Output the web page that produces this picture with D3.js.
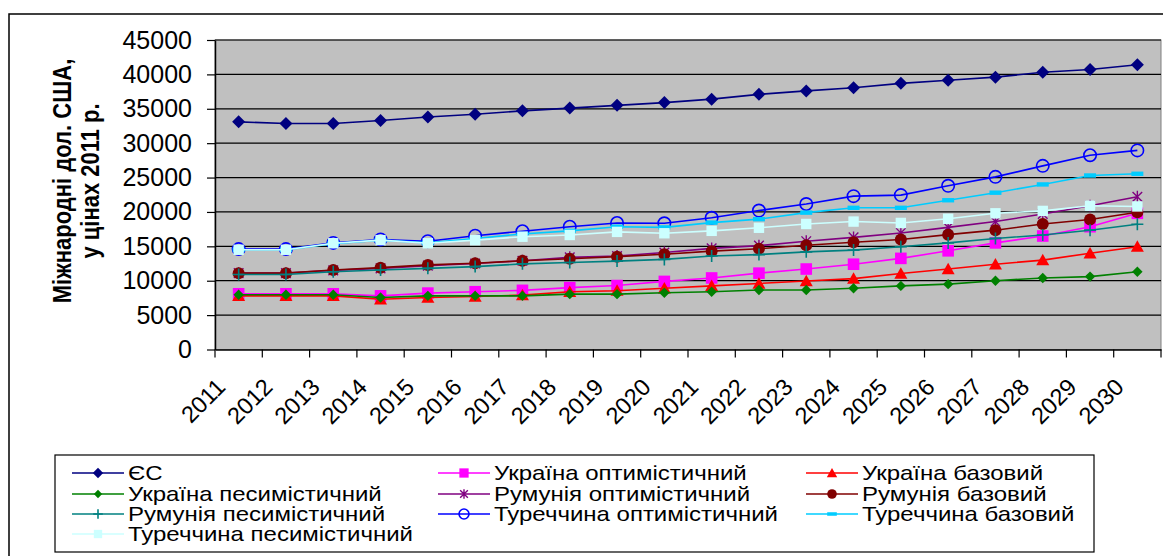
<!DOCTYPE html>
<html>
<head>
<meta charset="utf-8">
<script src="https://cdn.jsdelivr.net/npm/d3@7"></script>
<style>
  html, body { margin: 0; padding: 0; background: #fff; }
  svg { display: block; font-family: Arial, "Liberation Sans", sans-serif; }
</style>
</head>
<body>
<svg id="chart" width="1163" height="556"></svg>
<script>
// GDP per capita projections, international USD at 2011 prices
const years = ["2011","2012","2013","2014","2015","2016","2017","2018","2019","2020",
               "2021","2022","2023","2024","2025","2026","2027","2028","2029","2030"];
const yTicks = [0, 5000, 10000, 15000, 20000, 25000, 30000, 35000, 40000, 45000];

const eu     = [33100, 32850, 32850, 33300, 33800, 34200, 34700, 35100, 35500, 35900, 36400, 37100, 37600, 38050, 38700, 39150, 39600, 40300, 40700, 41400];
const uaOpt  = [8100, 8100, 8100, 7800, 8200, 8400, 8600, 9000, 9300, 9900, 10400, 11100, 11700, 12400, 13250, 14350, 15500, 16500, 17850, 19800];
const uaBase = [7800, 7800, 7800, 7300, 7550, 7700, 7900, 8400, 8550, 8900, 9250, 9600, 9950, 10300, 11050, 11700, 12400, 13000, 14000, 14950];
const uaPes  = [7950, 7950, 7950, 7550, 7800, 7800, 7800, 8050, 8050, 8250, 8400, 8650, 8650, 8900, 9250, 9500, 10000, 10400, 10600, 11300];
const roOpt  = [11100, 11100, 11500, 11800, 12200, 12500, 12900, 13400, 13600, 14100, 14700, 15100, 15750, 16300, 16950, 17750, 18600, 19700, 20900, 22200];
const roBase = [11100, 11100, 11550, 11900, 12300, 12550, 12900, 13200, 13500, 13850, 14300, 14650, 15150, 15600, 16000, 16700, 17350, 18250, 18900, 19950];
const roPes  = [10900, 10900, 11300, 11550, 11800, 12050, 12450, 12650, 12850, 13100, 13600, 13800, 14200, 14450, 14950, 15500, 16150, 16650, 17350, 18200];
const trOpt  = [14600, 14600, 15500, 16000, 15750, 16550, 17200, 17850, 18400, 18350, 19150, 20200, 21150, 22300, 22450, 23800, 25100, 26700, 28250, 28950];
const trBase = [14500, 14500, 15400, 15900, 15500, 16150, 16800, 17250, 17850, 17750, 18450, 18950, 19900, 20600, 20600, 21700, 22800, 24000, 25300, 25550];
const trPes  = [14500, 14500, 15450, 15900, 15450, 15900, 16400, 16650, 17100, 16900, 17250, 17700, 18250, 18600, 18400, 19000, 19800, 20150, 20900, 20800];

const seriesNames = ["ЄС", "Україна оптимістичний", "Україна базовий", "Україна песимістичний",
  "Румунія оптимістичний", "Румунія базовий", "Румунія песимістичний",
  "Туреччина оптимістичний", "Туреччина базовий", "Туреччина песимістичний"];
const seriesValues = [eu, uaOpt, uaBase, uaPes, roOpt, roBase, roPes, trOpt, trBase, trPes];
const seriesColors = ["#000080", "#FF00FF", "#FF0000", "#008000", "#800080", "#800000",
  "#008080", "#0000FF", "#00CCFF", "#CCFFFF"];
const seriesMarkers = ["diamond", "square", "triangle", "smallDiamond", "star", "circle",
  "plus", "openCircle", "dash", "lightSquare"];

const series = seriesNames.map((name, i) => ({
  name, values: seriesValues[i], color: seriesColors[i], marker: seriesMarkers[i]
}));

const svg = d3.select("#chart");

// outer chart frame
svg.append("rect")
  .attr("x", 9).attr("y", 14).attr("width", 1170).attr("height", 570)
  .attr("fill", "#fff").attr("stroke", "#000").attr("stroke-width", 1.5);

const plot = { left: 215, top: 40, right: 1161, bottom: 349.5 };

const x = d3.scaleBand().domain(years).range([plot.left, plot.right]).padding(0);
const y = d3.scaleLinear().domain([0, 45000]).range([plot.bottom, plot.top]);
const cx = d => x(d) + x.bandwidth() / 2;

// plot background
svg.append("rect")
  .attr("x", plot.left).attr("y", plot.top)
  .attr("width", plot.right - plot.left).attr("height", plot.bottom - plot.top)
  .attr("fill", "#C0C0C0").attr("stroke", "#808080").attr("stroke-width", 1);

// horizontal gridlines
svg.append("g").selectAll("line").data(yTicks.filter(t => t > 0)).join("line")
  .attr("x1", plot.left).attr("x2", plot.right)
  .attr("y1", d => y(d)).attr("y2", d => y(d))
  .attr("stroke", "#000").attr("stroke-width", 1.2);

// y axis
const yAxis = svg.append("g")
  .attr("transform", `translate(${plot.left},0)`)
  .call(d3.axisLeft(y).tickValues(yTicks).tickFormat(d3.format("d"))
    .tickSize(8).tickPadding(15).tickSizeOuter(0));
yAxis.select(".domain").attr("stroke", "#000").attr("stroke-width", 1.5);
yAxis.selectAll(".tick line").attr("stroke", "#000").attr("stroke-width", 1.2);
yAxis.selectAll(".tick text")
  .attr("font-size", 25).attr("fill", "#000")
  .attr("font-family", "Arial, 'Liberation Sans', sans-serif");

// x axis: baseline, ticks between categories, rotated labels
const xAxis = svg.append("g")
  .attr("transform", `translate(0,${plot.bottom})`)
  .call(d3.axisBottom(x).tickSize(0).tickSizeOuter(0));
xAxis.select(".domain").attr("stroke", "#000").attr("stroke-width", 1.5);
xAxis.selectAll(".tick text")
  .attr("font-size", 23.5).attr("fill", "#000")
  .attr("font-family", "Arial, 'Liberation Sans', sans-serif")
  .attr("text-anchor", "end")
  .attr("dy", 0).attr("y", 0)
  .attr("transform", "translate(-12,39) rotate(-45)");

const boundaries = years.map(d => x(d)).concat([x(years[years.length - 1]) + x.bandwidth()]);
svg.append("g").selectAll("line").data(boundaries).join("line")
  .attr("x1", d => d).attr("x2", d => d)
  .attr("y1", plot.bottom).attr("y2", plot.bottom + 8)
  .attr("stroke", "#000").attr("stroke-width", 1.2);

// y axis title (two centred lines, slightly widened glyphs)
const yTitle = svg.append("g").attr("font-weight", "bold").attr("font-size", 22)
  .attr("fill", "#000").attr("text-anchor", "middle");
yTitle.append("text")
  .attr("transform", "translate(71,181) scale(1.2,1) rotate(-90)")
  .text("Міжнародні дол. США,");
yTitle.append("text")
  .attr("transform", "translate(99,181) scale(1.2,1) rotate(-90)")
  .text("у цінах 2011 р.");

// marker drawing
function drawMarker(g, type, color, k) {
  k = k || 1;
  switch (type) {
    case "diamond": {
      const s = 6.5 * k;
      g.append("path").attr("d", `M0,${-s}L${s},0L0,${s}L${-s},0Z`).attr("fill", color);
      break;
    }
    case "smallDiamond": {
      const s = 5.2 * k;
      g.append("path").attr("d", `M0,${-s}L${s},0L0,${s}L${-s},0Z`).attr("fill", color);
      break;
    }
    case "square": {
      const s = 5.8 * k;
      g.append("rect").attr("x", -s).attr("y", -s).attr("width", 2 * s).attr("height", 2 * s).attr("fill", color);
      break;
    }
    case "lightSquare": {
      const s = 5.2 * k;
      g.append("rect").attr("x", -s).attr("y", -s).attr("width", 2 * s).attr("height", 2 * s).attr("fill", color);
      break;
    }
    case "triangle": {
      const w = 6.5 * k, h = 11.5 * k;
      g.append("path").attr("d", `M0,${-h * 0.55}L${w},${h * 0.45}L${-w},${h * 0.45}Z`).attr("fill", color);
      break;
    }
    case "circle": {
      g.append("circle").attr("r", 6 * k).attr("fill", color);
      break;
    }
    case "openCircle": {
      g.append("circle").attr("r", 6.2 * k).attr("fill", "none")
        .attr("stroke", color).attr("stroke-width", 1.6);
      break;
    }
    case "star": {
      const s = 6 * k, d = s * 0.8;
      g.append("path")
        .attr("d", `M0,${-s}V${s}M${-d},${-d}L${d},${d}M${-d},${d}L${d},${-d}`)
        .attr("stroke", color).attr("stroke-width", 1.4).attr("fill", "none");
      break;
    }
    case "plus": {
      const s = 6 * k;
      g.append("path").attr("d", `M0,${-s}V${s}M${-s},0H${s}`)
        .attr("stroke", color).attr("stroke-width", 1.6).attr("fill", "none");
      break;
    }
    case "dash": {
      const w = 6 * k, h = 2.2 * k;
      g.append("rect").attr("x", -w).attr("y", -h).attr("width", 2 * w).attr("height", 2 * h).attr("fill", color);
      break;
    }
  }
}

// series lines and markers
const line = d3.line().x((v, i) => cx(years[i])).y(v => y(v));
series.forEach(s => {
  const g = svg.append("g");
  g.append("path").attr("d", line(s.values))
    .attr("fill", "none").attr("stroke", s.color).attr("stroke-width", 1.6);
  s.values.forEach((v, i) => {
    const m = g.append("g").attr("transform", `translate(${cx(years[i])},${y(v)})`);
    drawMarker(m, s.marker, s.color, 1);
  });
});

// legend
const legend = svg.append("g");
legend.append("rect")
  .attr("x", 55).attr("y", 455).attr("width", 1039).attr("height", 97)
  .attr("fill", "#fff").attr("stroke", "#000").attr("stroke-width", 1.2);

const colX = [72, 438, 806];
const rowY = [473, 494, 514, 534];
series.forEach((s, i) => {
  const col = i % 3, row = Math.floor(i / 3);
  const lx = colX[col], ly = rowY[row];
  const g = legend.append("g");
  g.append("line").attr("x1", lx).attr("x2", lx + 52).attr("y1", ly).attr("y2", ly)
    .attr("stroke", s.color).attr("stroke-width", 1.6);
  const m = g.append("g").attr("transform", `translate(${lx + 26},${ly})`);
  drawMarker(m, s.marker, s.color, 0.8);
  g.append("text")
    .attr("transform", `translate(${lx + 56},${ly + 7}) scale(1.2,1)`)
    .attr("font-size", 20).attr("fill", "#000").text(s.name);
});
</script>
</body>
</html>
